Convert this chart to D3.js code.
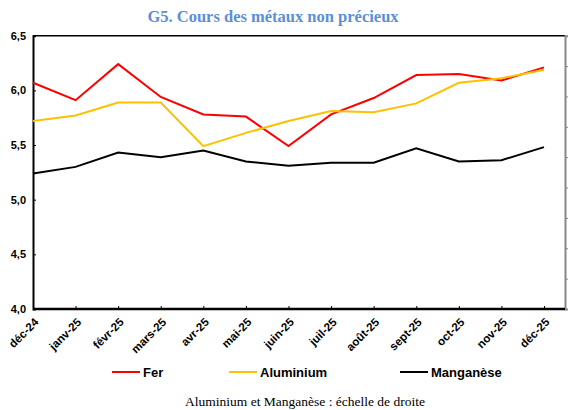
<!DOCTYPE html>
<html>
<head>
<meta charset="utf-8">
<script src="https://cdn.jsdelivr.net/npm/d3@7"></script>
<style>
  body { margin: 0; background: #fff; }
  text { font-family: Arial, "Liberation Sans", sans-serif; }
</style>
</head>
<body>
<script>
// months on the x axis
const months = ["déc-24", "janv-25", "févr-25", "mars-25", "avr-25", "mai-25", "juin-25",
  "juil-25", "août-25", "sept-25", "oct-25", "nov-25", "déc-25"];
// Fer : left scale
const fer = [6.07, 5.91, 6.24, 5.94, 5.78, 5.76, 5.49, 5.78, 5.93, 6.14, 6.15, 6.09, 6.21];
// Aluminium et Manganèse : right scale (no labels shown)
const aluminium = [6.19, 6.37, 6.80, 6.80, 5.36, 5.80, 6.19, 6.52, 6.48, 6.77, 7.45, 7.60, 7.88];
const manganese = [4.46, 4.68, 5.15, 5.00, 5.22, 4.86, 4.72, 4.82, 4.82, 5.29, 4.86, 4.90, 5.33];
const leftTicks = [4.0, 4.5, 5.0, 5.5, 6.0, 6.5];
const rightTicks = [0, 1, 2, 3, 4, 5, 6, 7, 8, 9];

const width = 573, height = 410;
const plotL = 33, plotR = 565, plotT = 35.7, plotB = 309;

const svg = d3.select("body").append("svg")
  .attr("width", width).attr("height", height);

svg.append("text")
  .attr("x", 273).attr("y", 22)
  .attr("text-anchor", "middle")
  .style("font-family", "'Liberation Serif', 'Times New Roman', serif")
  .style("font-weight", "bold").style("font-size", "16.5px")
  .attr("fill", "#5b8fd8")
  .text("G5. Cours des métaux non précieux");

const x = d3.scalePoint().domain(months).range([plotL, 544]);
const yL = d3.scaleLinear().domain([4, 6.5]).range([plotB, plotT]);
const yR = d3.scaleLinear().domain([0, 9]).range([plotB, plotT]);

// frame top
svg.append("line").attr("x1", plotL).attr("x2", plotR).attr("y1", plotT).attr("y2", plotT)
  .attr("stroke", "#000").attr("stroke-width", 1.5);

// right axis (gray, no labels)
const rAxis = svg.append("g").attr("transform", `translate(${plotR},0)`)
  .call(d3.axisRight(yR).tickValues(rightTicks).tickSize(3).tickFormat(""));
rAxis.select(".domain").attr("stroke", "#888").attr("stroke-width", 2);
rAxis.selectAll(".tick line").attr("stroke", "#888");

// left axis
const lAxis = svg.append("g").attr("transform", `translate(${plotL},0)`)
  .call(d3.axisLeft(yL).tickValues(leftTicks).tickSize(-3).tickPadding(7)
    .tickFormat(d => d3.format(".1f")(d).replace(".", ",")));
lAxis.select(".domain").attr("stroke", "#000").attr("stroke-width", 2);
lAxis.selectAll(".tick text").style("font-weight", "bold").style("font-size", "11px").attr("fill", "#000");

// bottom axis
const bAxis = svg.append("g").attr("transform", `translate(0,${plotB})`)
  .call(d3.axisBottom(x).tickSize(-3).tickPadding(0));
bAxis.select(".domain").remove();
bAxis.append("line").attr("x1", plotL).attr("x2", plotR).attr("stroke", "#000").attr("stroke-width", 2.5);
bAxis.selectAll(".tick text")
  .style("font-weight", "bold").style("font-size", "11.5px").attr("fill", "#000")
  .attr("text-anchor", "end")
  .attr("dy", "0.35em")
  .attr("transform", "translate(3,11) rotate(-45)");

const series = [
  { name: "Fer", values: fer, scale: yL, color: "#ff0000" },
  { name: "Aluminium", values: aluminium, scale: yR, color: "#ffc000" },
  { name: "Manganèse", values: manganese, scale: yR, color: "#000000" }
];

series.forEach(s => {
  const line = d3.line().x((d, i) => x(months[i])).y(d => s.scale(d));
  svg.append("path").datum(s.values)
    .attr("d", line).attr("fill", "none")
    .attr("stroke", s.color).attr("stroke-width", 2);
});

// legend
const legendX = [112, 229, 400];
series.forEach((s, i) => {
  svg.append("line").attr("x1", legendX[i]).attr("x2", legendX[i] + 28)
    .attr("y1", 372).attr("y2", 372).attr("stroke", s.color).attr("stroke-width", 2);
  svg.append("text").attr("x", legendX[i] + 31).attr("y", 377)
    .style("font-weight", "bold").style("font-size", "13px").attr("fill", "#000")
    .text(s.name);
});

svg.append("text").attr("x", 305).attr("y", 406)
  .attr("text-anchor", "middle")
  .style("font-family", "'Liberation Serif', 'Times New Roman', serif")
  .style("font-size", "13.5px").attr("fill", "#000")
  .text("Aluminium et Manganèse : échelle de droite");
</script>
</body>
</html>
